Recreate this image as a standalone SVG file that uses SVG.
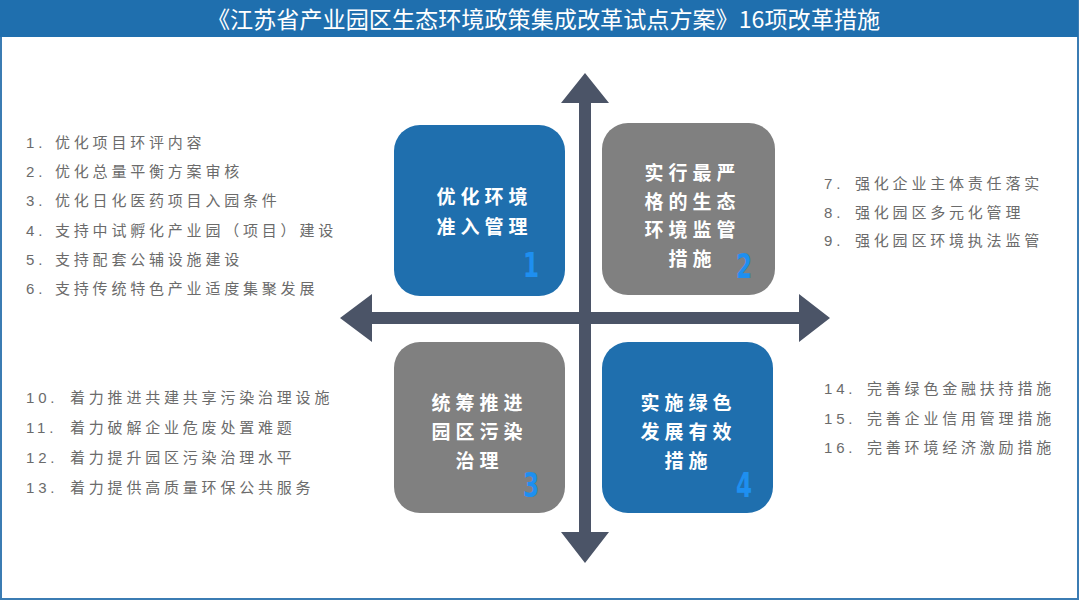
<svg xmlns="http://www.w3.org/2000/svg" width="1080" height="602" viewBox="0 0 1080 602">
<style>
.title{font-family:"Noto Sans CJK SC","Liberation Sans",sans-serif;font-size:23px;fill:#ffffff;}
.box-text{font-family:"Noto Sans CJK SC",sans-serif;font-weight:bold;font-size:19px;fill:#ffffff;letter-spacing:5px;text-anchor:middle;}
.digit{font-family:"DejaVu Sans","Liberation Sans",sans-serif;font-weight:bold;font-size:33px;fill:#1e8ff0;text-anchor:middle;}
.item{font-family:"Liberation Sans","Noto Sans CJK SC",sans-serif;font-size:15px;fill:#6b6b6b;letter-spacing:3.8px;}
.blue{fill:#1f6fae;}
.gray{fill:#808080;}
.arrow{fill:#4b5467;}
</style>
<rect x="0" y="0" width="1080" height="602" fill="#ffffff"/>
<rect x="1" y="1" width="1077" height="598" fill="none" stroke="#3b7cb3" stroke-width="2"/>
<g id="title">
<rect x="0" y="0" width="1078" height="37" fill="#1f6fae"/>
<text class="title" x="543.5" y="28" text-anchor="middle" textLength="673" lengthAdjust="spacingAndGlyphs">《江苏省产业园区生态环境政策集成改革试点方案》16项改革措施</text>
</g>
<g id="connectors">
<polygon class="arrow" points="585,73 609,103 591,103 591,532 609,532 585,563 561,532 579,532 579,103 561,103"/>
<polygon class="arrow" points="340,318 372,294 372,312 799,312 799,294 830,318 799,342 799,324 372,324 372,342"/>
</g>
<g id="node1">
<rect class="blue" x="394" y="125" width="171" height="171" rx="26"/>
<text class="box-text" x="484.5" y="204">优化环境</text>
<text class="box-text" x="484.5" y="234">准入管理</text>
<text class="digit" transform="translate(531,277) scale(0.7,1)" x="0" y="0">1</text>
</g>
<g id="node2">
<rect class="gray" x="602" y="123" width="173" height="172" rx="26"/>
<text class="box-text" x="692.5" y="180">实行最严</text>
<text class="box-text" x="692.5" y="209">格的生态</text>
<text class="box-text" x="692.5" y="237">环境监管</text>
<text class="box-text" x="692.5" y="266">措施</text>
<text class="digit" transform="translate(744,278) scale(0.7,1)" x="0" y="0">2</text>
</g>
<g id="node3">
<rect class="gray" x="394" y="342" width="171" height="171" rx="26"/>
<text class="box-text" x="479.5" y="410">统筹推进</text>
<text class="box-text" x="479.5" y="439">园区污染</text>
<text class="box-text" x="479.5" y="468">治理</text>
<text class="digit" transform="translate(531,497) scale(0.7,1)" x="0" y="0">3</text>
</g>
<g id="node4">
<rect class="blue" x="602" y="342" width="171" height="171" rx="26"/>
<text class="box-text" x="688.5" y="410">实施绿色</text>
<text class="box-text" x="688.5" y="439">发展有效</text>
<text class="box-text" x="688.5" y="468">措施</text>
<text class="digit" transform="translate(744,497) scale(0.7,1)" x="0" y="0">4</text>
</g>
<g id="list-left-top">
<text class="item" x="26" y="147.5">1.<tspan x="55">优化项目环评内容</tspan></text>
<text class="item" x="26" y="177">2.<tspan x="55">优化总量平衡方案审核</tspan></text>
<text class="item" x="26" y="206">3.<tspan x="55">优化日化医药项目入园条件</tspan></text>
<text class="item" x="26" y="235.5">4.<tspan x="55">支持中试孵化产业园（项目）建设</tspan></text>
<text class="item" x="26" y="265">5.<tspan x="55">支持配套公辅设施建设</tspan></text>
<text class="item" x="26" y="294">6.<tspan x="55">支持传统特色产业适度集聚发展</tspan></text>
</g>
<g id="list-right-top">
<text class="item" x="824" y="188.5">7.<tspan x="855">强化企业主体责任落实</tspan></text>
<text class="item" x="824" y="217.5">8.<tspan x="855">强化园区多元化管理</tspan></text>
<text class="item" x="824" y="245.5">9.<tspan x="855">强化园区环境执法监管</tspan></text>
</g>
<g id="list-left-bottom">
<text class="item" x="26" y="402.5">10.<tspan x="70">着力推进共建共享污染治理设施</tspan></text>
<text class="item" x="26" y="433">11.<tspan x="70">着力破解企业危废处置难题</tspan></text>
<text class="item" x="26" y="462.5">12.<tspan x="70">着力提升园区污染治理水平</tspan></text>
<text class="item" x="26" y="492.5">13.<tspan x="70">着力提供高质量环保公共服务</tspan></text>
</g>
<g id="list-right-bottom">
<text class="item" x="824" y="393.5">14.<tspan x="867">完善绿色金融扶持措施</tspan></text>
<text class="item" x="824" y="423.5">15.<tspan x="867">完善企业信用管理措施</tspan></text>
<text class="item" x="824" y="452.5">16.<tspan x="867">完善环境经济激励措施</tspan></text>
</g>
</svg>
